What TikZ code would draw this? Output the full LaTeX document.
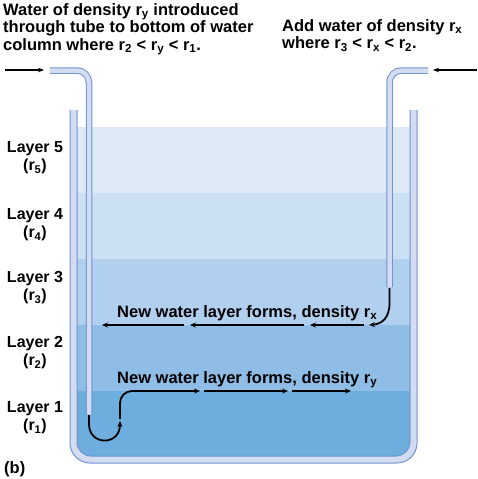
\documentclass[tikz,border=0pt]{standalone}
\usepackage{fontspec}
\setmainfont{Liberation Sans}
\usetikzlibrary{arrows.meta}
\definecolor{walledge}{HTML}{6F93D3}
\definecolor{wallfill}{HTML}{D3DCF0}
\definecolor{layerfive}{HTML}{DDE9F5}
\definecolor{layerfour}{HTML}{CCE0F3}
\definecolor{layerthree}{HTML}{B1CFEE}
\definecolor{layertwo}{HTML}{8FBDE6}
\definecolor{layerone}{HTML}{6DAEDE}
\newcommand{\dens}[1]{r\textsubscript{#1}}

\begin{document}
\begin{tikzpicture}
[
	x=1pt,y=-1pt,
	font=\fontsize{16.5}{17.5}\selectfont\bfseries,
	wall/.style={draw=walledge,fill=wallfill,line width=1pt},
	tube/.style={draw=walledge,double=wallfill,double distance=4.5pt,line width=1pt},
	flow/.style={line width=1.8pt,-{Stealth[length=6pt,width=5pt]}},
	feed/.style={line width=1.2pt,-{Stealth[length=6pt,width=4.5pt]}},
	layerlabel/.style={align=center,inner sep=0pt,font=\fontsize{16}{18}\selectfont\bfseries},
	textnote/.style={align=left,anchor=north west,inner sep=0pt}
]

	\useasboundingbox (0,0) rectangle (477,479);

	% container
	\draw[wall] (70,110) [rounded corners=20] -- (70,463) -- (417,463) -- (417,110);
	\fill[white] (77,110) [rounded corners=14] -- (77,456) -- (410,456) -- (410,110);

	\begin{scope}
		\clip (77,110) [rounded corners=14] -- (77,456) -- (410,456) -- (410,110);
		\foreach \top/\col in {127/layerfive,193/layerfour,259/layerthree,325/layertwo,391/layerone}
			\fill[\col] (77,\top) rectangle (410,\top+70);
	\end{scope}
	\draw[walledge,line width=1pt] (77,110) [rounded corners=14] -- (77,456) -- (410,456) -- (410,110);

	% tubes
	\draw[tube] (50,70.5) [rounded corners=12] -- (89,70.5) -- (89,414.5);
	\draw[tube] (428,70.5) [rounded corners=12] -- (389.5,70.5) -- (389.5,287);

	\coordinate (lin) at (5,70);
	\coordinate (lmouth) at (44,70);
	\coordinate (rin) at (477,70);
	\coordinate (rmouth) at (433,70);
	\coordinate (lend) at (89,415);
	\coordinate (rend) at (389.5,288);

	\draw[feed] (lin) -- (lmouth);
	\draw[feed] (rin) -- (rmouth);

	% layer of density rx
	\draw[flow] (rend) -- (389.5,303) .. controls (389.5,318) and (382,324) .. (369,325);
	\draw[flow] (364,325) -- (310,325);
	\draw[flow] (304,325) -- (190,325);
	\draw[flow] (184,325) -- (102,325);

	% layer of density ry
	\draw[flow] (lend) -- (89,424) .. controls (89,446) and (120,446) .. (120,421);
	\draw[line width=1.8pt] (120,419) [rounded corners=12] -- (120,391) -- (150,391);
	\draw[flow] (149,391) -- (200,391);
	\draw[flow] (204,391) -- (288,391);
	\draw[flow] (292,391) -- (351,391);

	\node[textnote] (ynote) at (3,3) {Water of density \dens{y} introduced\\through tube to bottom of water\\column where \dens{2} < \dens{y} < \dens{1}.};
	\node[textnote] (xnote) at (282,19) {Add water of density \dens{x}\\where \dens{3} < \dens{x} < \dens{2}.};

	\node[anchor=base west,inner sep=0pt] (xlayer) at (117,317) {New water layer forms, density \dens{x}};
	\node[anchor=base west,inner sep=0pt] (ylayer) at (117,383) {New water layer forms, density \dens{y}};

	\foreach \n/\y in {5/158,4/225,3/288,2/353,1/418}
		\node[layerlabel] (layer\n) at (35,\y) {Layer \n\\(\dens{\n})};

	\node[anchor=base west,inner sep=0pt] (panel) at (4,473) {(b)};

\end{tikzpicture}
\end{document}
